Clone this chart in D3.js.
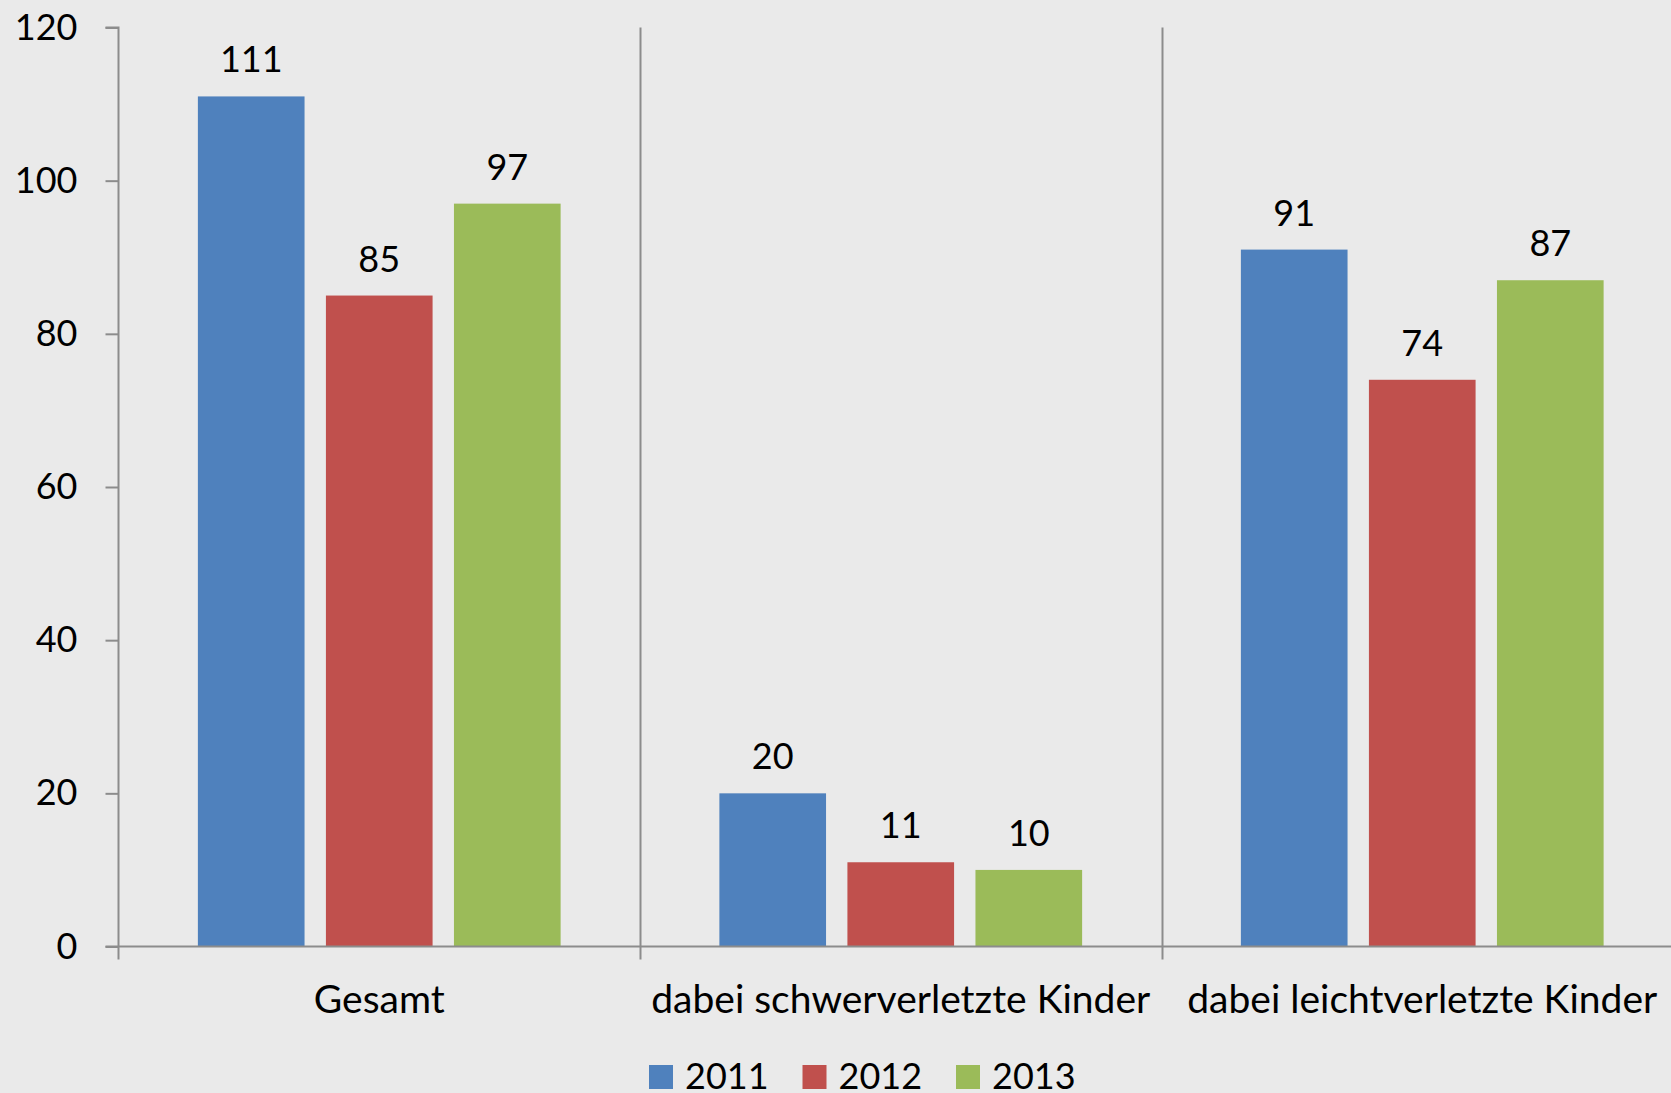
<!DOCTYPE html>
<html>
<head>
<meta charset="utf-8">
<script src="https://cdn.jsdelivr.net/npm/d3@7"></script>
<style>
  html, body { margin: 0; padding: 0; background: #eaeaea; }
  svg { display: block; font-family: Lato, "Open Sans", sans-serif; }
</style>
</head>
<body>
<svg id="chart" width="1671" height="1093"></svg>
<script>
const categories = ["Gesamt", "dabei schwerverletzte Kinder", "dabei leichtverletzte Kinder"];
const years = ["2011", "2012", "2013"];
const values2011 = [111, 20, 91];
const values2012 = [85, 11, 74];
const values2013 = [97, 10, 87];
const yTicks = [0, 20, 40, 60, 80, 100, 120];

const colors = { "2011": "#4f81bd", "2012": "#c0504d", "2013": "#9bbb59" };
const seriesByYear = { "2011": values2011, "2012": values2012, "2013": values2013 };

let chartW = 1671,
  chartH = 1093,
  plotLeft = 118.5,
  catWidth = 521.5,
  plotTop = 27.5,
  plotBottom = 946.5;

let svg = d3.select("#chart");

svg.append("rect").attr("width", chartW).attr("height", chartH).attr("fill", "#eaeaea");

let x = d3.scaleBand()
  .domain(categories)
  .range([plotLeft, plotLeft + catWidth * categories.length])
  .padding(0);

let xInner = d3.scaleBand()
  .domain(years)
  .range([0, catWidth])
  .paddingInner(0.167)
  .paddingOuter(0.62);

let y = d3.scaleLinear().domain([0, 120]).range([plotBottom, plotTop]);

// separators between categories (vertical lines from top down past the axis)
let bounds = categories.map((c) => x(c)).slice(1);
svg.selectAll("line.sep")
  .data(bounds)
  .enter()
  .append("line")
  .attr("class", "sep")
  .attr("x1", (d) => Math.round(d) + 0.5)
  .attr("x2", (d) => Math.round(d) + 0.5)
  .attr("y1", plotTop)
  .attr("y2", plotBottom + 13)
  .attr("stroke", "#8c8c8c")
  .attr("stroke-width", 2);

// bars
let groups = svg.selectAll("g.cat")
  .data(categories)
  .enter()
  .append("g")
  .attr("class", "cat")
  .attr("transform", (d) => `translate(${x(d)},0)`);

groups.selectAll("rect")
  .data((c, i) => years.map((yr) => ({ year: yr, value: seriesByYear[yr][i] })))
  .enter()
  .append("rect")
  .attr("x", (d) => xInner(d.year))
  .attr("width", xInner.bandwidth())
  .attr("y", (d) => y(d.value))
  .attr("height", (d) => y(0) - y(d.value))
  .attr("fill", (d) => colors[d.year]);

groups.selectAll("text.val")
  .data((c, i) => years.map((yr) => ({ year: yr, value: seriesByYear[yr][i] })))
  .enter()
  .append("text")
  .attr("class", "val")
  .attr("x", (d) => xInner(d.year) + xInner.bandwidth() / 2)
  .attr("y", (d) => y(d.value) - 24)
  .attr("text-anchor", "middle")
  .attr("font-size", 36)
  .attr("fill", "#000")
  .text((d) => d.value);

// y axis
let yAxis = svg.append("g")
  .attr("transform", `translate(${plotLeft},0)`)
  .call(d3.axisLeft(y).tickValues(yTicks).tickSize(13).tickPadding(28));
yAxis.select(".domain").attr("stroke", "#8c8c8c").attr("stroke-width", 2)
  .attr("d", `M-13,${plotTop}H0V${plotBottom}`);
yAxis.selectAll(".tick line").attr("stroke", "#8c8c8c").attr("stroke-width", 2);
yAxis.selectAll(".tick text")
  .attr("font-size", 36)
  .attr("font-family", "Lato, sans-serif")
  .attr("fill", "#000");

// x axis baseline and ticks
svg.append("line")
  .attr("x1", plotLeft - 13)
  .attr("x2", chartW)
  .attr("y1", plotBottom)
  .attr("y2", plotBottom)
  .attr("stroke", "#8c8c8c")
  .attr("stroke-width", 2);
svg.append("line")
  .attr("x1", plotLeft)
  .attr("x2", plotLeft)
  .attr("y1", plotBottom)
  .attr("y2", plotBottom + 13)
  .attr("stroke", "#8c8c8c")
  .attr("stroke-width", 2);

svg.selectAll("text.cat")
  .data(categories)
  .enter()
  .append("text")
  .attr("class", "cat")
  .attr("x", (d) => x(d) + x.bandwidth() / 2)
  .attr("y", 1013)
  .attr("text-anchor", "middle")
  .attr("font-size", 39)
  .attr("fill", "#000")
  .text((d) => d);

// legend
let legend = svg.selectAll("g.leg")
  .data(years)
  .enter()
  .append("g")
  .attr("class", "leg")
  .attr("transform", (d, i) => `translate(${649 + i * 153.5},1065)`);
legend.append("rect")
  .attr("width", 24)
  .attr("height", 24)
  .attr("fill", (d) => colors[d]);
legend.append("text")
  .attr("x", 36)
  .attr("y", 24)
  .attr("font-size", 36)
  .attr("fill", "#000")
  .text((d) => d);
</script>
</body>
</html>
